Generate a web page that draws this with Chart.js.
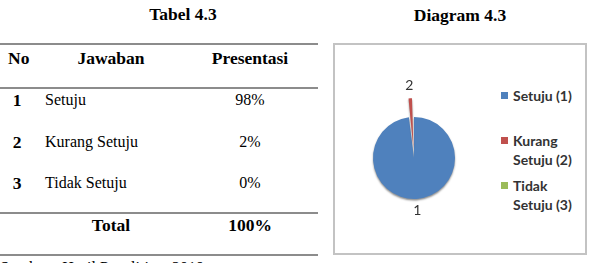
<!DOCTYPE html>
<html>
<head>
<meta charset="utf-8">
<script src="https://cdn.jsdelivr.net/npm/chart.js@4.4.0/dist/chart.umd.min.js"></script>
<style>
  html, body { margin: 0; padding: 0; background: #fff; }
  body { width: 589px; height: 263px; position: relative; overflow: hidden; }
  .serif { font-family: "Liberation Serif", "Times New Roman", serif; color: #000; position: absolute; white-space: nowrap; line-height: 1; }
  .b { font-weight: bold; font-size: 17.5px; }
  .r { font-size: 16px; }
  .rule { position: absolute; left: 0; width: 318px; height: 2px; background: #8c8c8c; }
  #frame { position: absolute; left: 333px; top: 43px; width: 254px; height: 212px; border: 2px solid #c3c3c3; box-sizing: border-box; }
  #pie { position: absolute; left: 334px; top: 78px; }
  .leg { position: absolute; left: 501px; font-family: Lato, "Open Sans", sans-serif; font-weight: bold; font-size: 14px; color: #333; line-height: 19px; }
  .leg i { position: absolute; left: 0; top: 6px; width: 7px; height: 7px; }
  .leg span { display: block; padding-left: 12px; }
</style>
</head>
<body>
<div id="table"></div>
<div id="frame"></div>
<canvas id="pie" width="160" height="160"></canvas>
<div id="legend"></div>

<script>
// data
const nums = ['1', '2', '3'];
const answers = ['Setuju', 'Kurang Setuju', 'Tidak Setuju'];
const percents = [98, 2, 0];
const legendLabels = [['Setuju (1)'], ['Kurang', 'Setuju (2)'], ['Tidak', 'Setuju (3)']];
const colors = ['#4f81bd', '#c0504d', '#9bbb59'];

// table on the left
const tbl = document.getElementById('table');
function put(text, cls, x, y, align) {
  const d = document.createElement('div');
  d.className = 'serif ' + cls;
  d.textContent = text;
  d.style.top = (y - 8) + 'px';
  d.style.left = x + 'px';
  if (align === 'c') d.style.transform = 'translateX(-50%)';
  tbl.appendChild(d);
}
function rule(y) {
  const d = document.createElement('div');
  d.className = 'rule';
  d.style.top = y + 'px';
  tbl.appendChild(d);
}
put('Tabel 4.3', 'b', 183, 14, 'c');
put('Diagram 4.3', 'b', 460, 15, 'c');
rule(43);
put('No', 'b', 8, 58);
put('Jawaban', 'b', 111, 58, 'c');
put('Presentasi', 'b', 250, 58, 'c');
rule(87);
const rowY = [100, 142, 183];
answers.forEach((a, i) => {
  put(nums[i], 'b', 17, rowY[i], 'c');
  put(a, 'r', 45, rowY[i]);
  put(percents[i] + '%', 'r', 250, rowY[i], 'c');
});
rule(212);
put('Total', 'b', 111, 225, 'c');
put(percents.reduce((s, v) => s + v, 0) + '%', 'b', 250, 225, 'c');
rule(254);
put('Sumber : Hasil Penelitian, 2019', 'r', 0, 268);

// legend
const leg = document.getElementById('legend');
const legTop = [86, 131, 176];
legendLabels.forEach((lines, i) => {
  const d = document.createElement('div');
  d.className = 'leg';
  d.style.top = legTop[i] + 'px';
  d.innerHTML = '<i style="background:' + colors[i] + '"></i>' + lines.map(t => '<span>' + t + '</span>').join('');
  leg.appendChild(d);
});

// number labels outside the slices (arc is pushed out by about offset/2)
const sliceLabels = {
  id: 'sliceLabels',
  afterDatasetsDraw(chart) {
    const ctx = chart.ctx;
    const meta = chart.getDatasetMeta(0);
    const offs = chart.data.datasets[0].offset;
    ctx.save();
    ctx.font = '14px Lato, "Open Sans", sans-serif';
    ctx.fillStyle = '#333';
    ctx.textAlign = 'center';
    ctx.textBaseline = 'middle';
    meta.data.forEach((arc, i) => {
      if (!percents[i]) return;
      const p = arc.getProps(['x', 'y', 'startAngle', 'endAngle', 'outerRadius']);
      const mid = (p.startAngle + p.endAngle) / 2;
      const r = p.outerRadius + offs[i] / 2 + 12;
      ctx.fillText(nums[i], p.x + Math.cos(mid) * r, p.y + Math.sin(mid) * r);
    });
    ctx.restore();
  }
};

const shade = {
  id: 'shade',
  beforeDatasetsDraw(chart) {
    const ctx = chart.ctx;
    ctx.save();
    ctx.shadowColor = 'rgba(0,0,0,0.45)';
    ctx.shadowBlur = 2;
    ctx.shadowOffsetY = 1.5;
  },
  afterDatasetsDraw(chart) {
    chart.ctx.restore();
  }
};

new Chart(document.getElementById('pie').getContext('2d'), {
  type: 'pie',
  data: {
    labels: answers,
    datasets: [{
      data: percents,
      backgroundColor: colors,
      borderWidth: 0,
      offset: [0, 40, 0]
    }]
  },
  options: {
    responsive: false,
    animation: false,
    radius: 41,
    plugins: {
      legend: { display: false },
      tooltip: { enabled: false }
    }
  },
  plugins: [shade, sliceLabels]
});
</script>
</body>
</html>
